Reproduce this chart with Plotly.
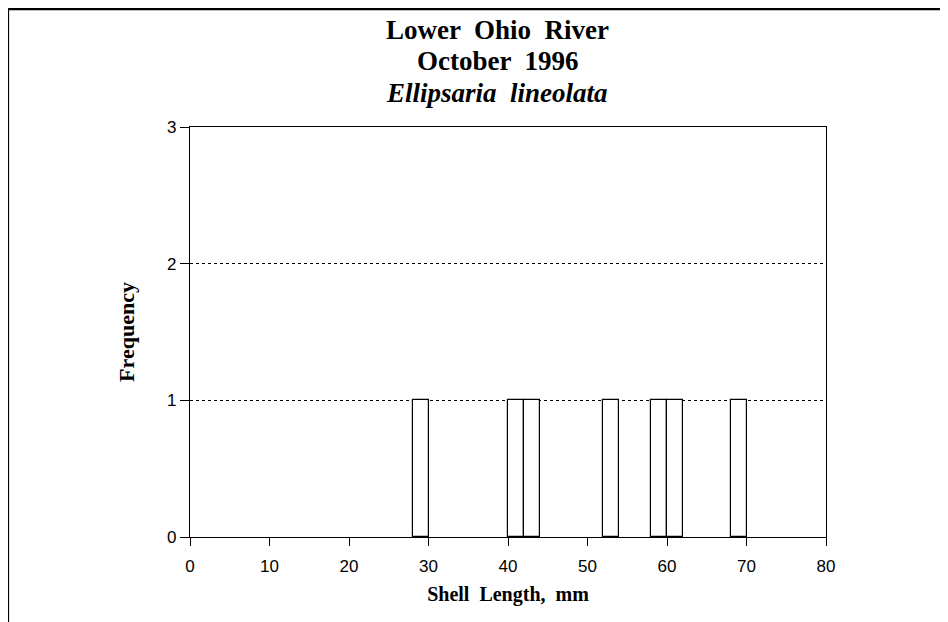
import plotly.graph_objects as go

# Shell length histogram (2 mm bins), Lower Ohio River, October 1996
bin_left = [28, 40, 42, 52, 58, 60, 68]
frequency = [1, 1, 1, 1, 1, 1, 1]
bin_width = 2

x_ticks = [0, 10, 20, 30, 40, 50, 60, 70, 80]
y_ticks = [0, 1, 2, 3]

title_lines = ['<b>Lower  Ohio  River</b>', '<b>October  1996</b>', '<b><i>Ellipsaria  lineolata</i></b>']
title_y = [1.237, 1.162, 1.084]

serif = 'Liberation Serif'
sans = 'Liberation Sans'

fig = go.Figure()

fig.add_trace(go.Bar(x = [b + bin_width / 2 for b in bin_left],
                     y = frequency,
                     width = bin_width,
                     marker = dict(color = 'white', line = dict(color = 'black', width = 1.2)),
                     showlegend = False))

annotations = []
for text, y in zip(title_lines, title_y):
    annotations.append(dict(text = text, xref = 'paper', yref = 'paper',
                            x = 0.483, y = y, xanchor = 'center', yanchor = 'middle',
                            showarrow = False,
                            font = dict(family = serif, size = 27, color = 'black')))

fig.update_layout(
    annotations = annotations,
    xaxis = dict(
        title = dict(text = '<b>Shell  Length,  mm</b>',
                     font = dict(family = serif, size = 20, color = 'black'),
                     standoff = 12),
        range = [0, 80],
        tickvals = x_ticks,
        tickfont = dict(family = sans, size = 17, color = 'black'),
        ticks = 'outside', ticklen = 8, tickcolor = 'black',
        ticklabelstandoff = 5,
        showline = True, linecolor = 'black', linewidth = 1.2, mirror = True,
        showgrid = False, zeroline = False),
    yaxis = dict(
        title = dict(text = '<b>Frequency</b>',
                     font = dict(family = serif, size = 22, color = 'black'),
                     standoff = 26),
        range = [0, 3],
        tickvals = y_ticks,
        tickfont = dict(family = sans, size = 17, color = 'black'),
        ticks = 'outside', ticklen = 9, tickcolor = 'black',
        showline = True, linecolor = 'black', linewidth = 1.2, mirror = True,
        showgrid = True, gridcolor = 'black', griddash = 'dot', gridwidth = 1,
        zeroline = False),
    shapes = [
        # page frame, left and top edges
        dict(type = 'line', xref = 'paper', yref = 'paper',
             x0 = -0.286, x1 = 1.3, y0 = 1.288, y1 = 1.288,
             line = dict(color = 'black', width = 2.5)),
        dict(type = 'line', xref = 'paper', yref = 'paper',
             x0 = -0.286, x1 = -0.286, y0 = -0.25, y1 = 1.288,
             line = dict(color = 'black', width = 2)),
    ],
    plot_bgcolor = 'white',
    paper_bgcolor = 'white',
    bargap = 0,
    margin = dict(l = 182, r = 122, t = 119, b = 85),
    autosize = False,
    width = 940,
    height = 614)

fig.write_html('out.html')
